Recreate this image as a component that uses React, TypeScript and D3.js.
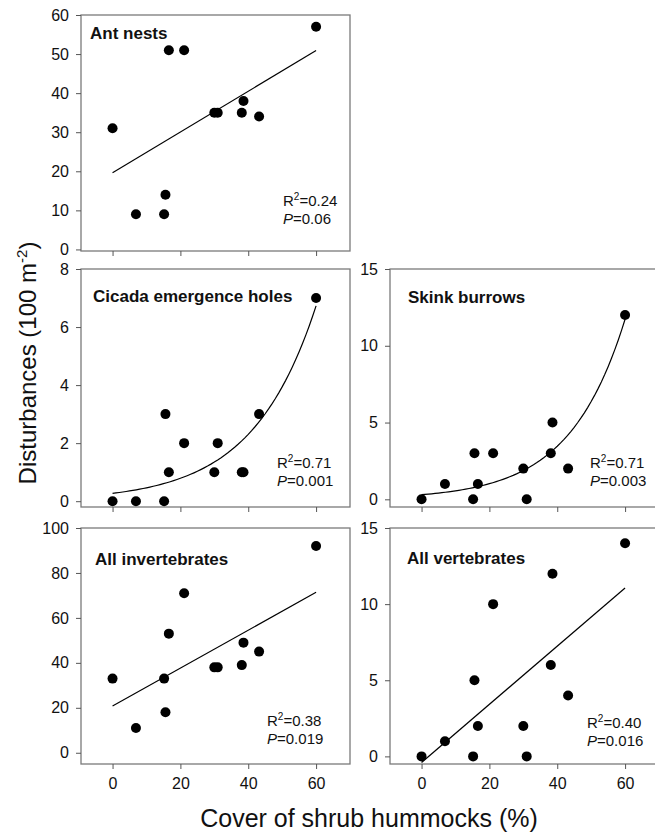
import React, { useRef, useEffect } from 'react';
import * as d3 from 'd3';

// shrub hummock cover (%) for each site, same order in every series
const cover = [0, 6.9, 15.2, 15.6, 16.6, 21.1, 30, 31, 38.1, 38.6, 43.2, 60];
const antNests = [31, 9, 9, 14, 51, 51, 35, 35, 35, 38, 34, 57];
const cicadaHoles = [0, 0, 0, 3, 1, 2, 1, 2, 1, 1, 3, 7];
const skinkBurrows = [0, 1, 0, 3, 1, 3, 2, 0, 3, 5, 2, 12];
const allInvertebrates = [33, 11, 33, 18, 53, 71, 38, 38, 39, 49, 45, 92];
const allVertebrates = [0, 1, 0, 5, 2, 10, 2, 0, 6, 12, 4, 14];

const xTicks = [0, 20, 40, 60];

// fitted curves as drawn: linear y = a + b*x, exponential y = a*exp(b*x)
const panels = [
  {
    name: 'Ant nests', values: antNests, fit: 'linear', a: 19.6, b: 0.522,
    r2: '0.24', p: '0.06', yDomain: [-0.4, 60], yTicks: [0, 10, 20, 30, 40, 50, 60],
    box: [81, 15, 269, 236], label: [9, 24], stats: [202, 191], xLabels: false,
  },
  {
    name: 'Cicada emergence holes', values: cicadaHoles, fit: 'exp', a: 0.27, b: 0.0536,
    r2: '0.71', p: '0.001', yDomain: [-0.2, 8], yTicks: [0, 2, 4, 6, 8],
    box: [81, 269, 269, 238], label: [12, 33], stats: [196, 199], xLabels: false,
  },
  {
    name: 'Skink burrows', values: skinkBurrows, fit: 'exp', a: 0.3, b: 0.0611,
    r2: '0.71', p: '0.003', yDomain: [-0.5, 15], yTicks: [0, 5, 10, 15],
    box: [390, 269, 269, 238], label: [18, 34], stats: [200, 199], xLabels: false,
  },
  {
    name: 'All invertebrates', values: allInvertebrates, fit: 'linear', a: 20.8, b: 0.843,
    r2: '0.38', p: '0.019', yDomain: [-5, 100], yTicks: [0, 20, 40, 60, 80, 100],
    box: [81, 528, 269, 236], label: [14, 37], stats: [186, 198], xLabels: true,
  },
  {
    name: 'All vertebrates', values: allVertebrates, fit: 'linear', a: -0.4, b: 0.191,
    r2: '0.40', p: '0.016', yDomain: [-0.5, 15], yTicks: [0, 5, 10, 15],
    box: [390, 528, 269, 236], label: [17, 36], stats: [197, 200], xLabels: true,
  },
];

const FONT = "'Liberation Sans', Arial, Helvetica, sans-serif";

const App = () => {
  const ref = useRef<SVGSVGElement>(null);

  useEffect(() => {
    const svg = d3.select(ref.current);
    svg.selectAll('*').remove();
    svg.style('font-family', FONT);

    panels.forEach(p => {
      const [bx, by, bw, bh] = p.box;
      const x = d3.scaleLinear().domain([-9.3, 70]).range([bx, bx + bw]);
      const y = d3.scaleLinear().domain(p.yDomain).range([by + bh, by]);
      const g = svg.append('g');

      // frame
      g.append('rect')
        .attr('x', bx).attr('y', by).attr('width', bw).attr('height', bh)
        .attr('fill', 'none').attr('stroke', '#7a7a7a').attr('stroke-width', 1.3);

      const yAxis = g.append('g')
        .attr('transform', `translate(${bx},0)`)
        .call(d3.axisLeft(y).tickValues(p.yTicks).tickSize(5).tickPadding(7));
      const xAxis = g.append('g')
        .attr('transform', `translate(0,${by + bh})`)
        .call(d3.axisBottom(x).tickValues(xTicks).tickSize(5).tickPadding(9)
          .tickFormat(p.xLabels ? (d: any) => String(d) : () => ''));
      [yAxis, xAxis].forEach(ax => {
        ax.select('.domain').remove();
        ax.selectAll('line').attr('stroke', '#555');
        ax.selectAll('text').attr('fill', '#111').style('font-size', '16px').style('font-family', FONT);
      });

      // fitted line / curve
      const fx = p.fit === 'linear' ? [0, 60] : d3.range(0, 60.5, 1);
      const fy = (v: number) => p.fit === 'linear' ? p.a + p.b * v : p.a * Math.exp(p.b * v);
      g.append('path')
        .attr('d', d3.line<number>().x(v => x(v)).y(v => y(fy(v)))(fx))
        .attr('fill', 'none').attr('stroke', '#000').attr('stroke-width', 1.2);

      g.selectAll('.dot')
        .data(p.values)
        .enter().append('circle')
        .attr('cx', (d, i) => x(cover[i]))
        .attr('cy', d => y(d))
        .attr('r', 5)
        .attr('fill', '#000');

      g.append('text')
        .attr('x', bx + p.label[0]).attr('y', by + p.label[1])
        .style('font-size', '17px').style('font-weight', 'bold')
        .attr('fill', '#111')
        .text(p.name);

      const r2 = g.append('text')
        .attr('x', bx + p.stats[0]).attr('y', by + p.stats[1])
        .style('font-size', '15px').attr('fill', '#111');
      r2.append('tspan').text('R');
      r2.append('tspan').attr('dy', -6).style('font-size', '10px').text('2');
      r2.append('tspan').attr('dy', 6).text(`=${p.r2}`);

      const pv = g.append('text')
        .attr('x', bx + p.stats[0]).attr('y', by + p.stats[1] + 18)
        .style('font-size', '15px').attr('fill', '#111');
      pv.append('tspan').style('font-style', 'italic').text('P');
      pv.append('tspan').text(`=${p.p}`);
    });

    // axis titles
    const yt = svg.append('text')
      .attr('transform', 'translate(36,363) rotate(-90)')
      .attr('text-anchor', 'middle')
      .style('font-size', '24px').attr('fill', '#111');
    yt.append('tspan').text('Disturbances (100 m');
    yt.append('tspan').attr('dy', -9).style('font-size', '15px').text('-2');
    yt.append('tspan').attr('dy', 9).text(')');

    svg.append('text')
      .attr('x', 369).attr('y', 827)
      .attr('text-anchor', 'middle')
      .style('font-size', '25px').attr('fill', '#111')
      .text('Cover of shrub hummocks (%)');
  }, []);

  return (
    <>
      <style>{'body{margin:0;background:#fff}'}</style>
      <svg ref={ref} width={655} height={834} style={{ display: 'block' }}></svg>
    </>
  );
};

export default App;
